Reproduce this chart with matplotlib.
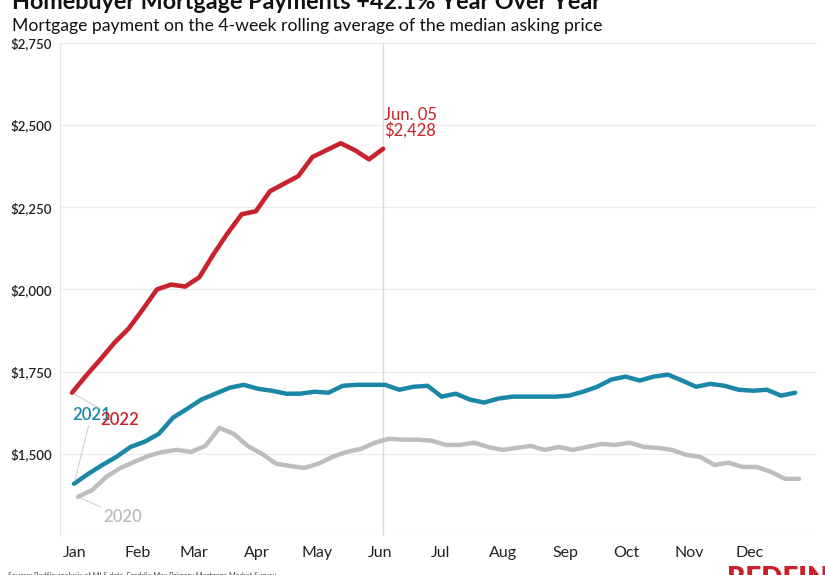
import matplotlib
matplotlib.use("Agg")
import matplotlib.pyplot as plt
import numpy as np

# Weekly mortgage payment on 4-week rolling avg of median asking price ($)
pay_2022 = [1686, 1738, 1787, 1838, 1881, 1939, 2000, 2015, 2009, 2037, 2107, 2171,
            2229, 2238, 2299, 2322, 2345, 2403, 2424, 2445, 2424, 2396, 2428]
pay_2021 = [1409, 1439, 1466, 1491, 1521, 1537, 1561, 1610, 1637, 1665, 1683, 1701,
            1710, 1698, 1692, 1683, 1683, 1689, 1686, 1707, 1710, 1710, 1710, 1695,
            1704, 1707, 1674, 1683, 1665, 1656, 1668, 1674, 1674, 1674, 1674, 1677,
            1689, 1704, 1726, 1735, 1723, 1735, 1741, 1723, 1704, 1713, 1707, 1695,
            1692, 1695, 1677, 1686]
pay_2020 = [1369, 1390, 1430, 1457, 1476, 1494, 1506, 1512, 1506, 1524, 1579, 1561,
            1524, 1500, 1470, 1463, 1457, 1470, 1491, 1506, 1515, 1534, 1546, 1543,
            1543, 1540, 1527, 1527, 1534, 1521, 1512, 1518, 1524, 1512, 1521, 1512,
            1521, 1530, 1527, 1534, 1521, 1518, 1512, 1497, 1491, 1466, 1473, 1460,
            1460, 1445, 1424, 1424]

# first week-ending day (day of year, 0 = Jan 1) for each year
start_day = {"2022": 1, "2021": 2, "2020": 4}

months = ["Jan", "Feb", "Mar", "Apr", "May", "Jun", "Jul", "Aug", "Sep", "Oct", "Nov", "Dec"]
month_start = [0, 31, 59, 90, 120, 151, 181, 212, 243, 273, 304, 334]
y_ticks = [1500, 1750, 2000, 2250, 2500, 2750]

RED = "#c8232c"
TEAL = "#1a87a6"
GRAY = "#bdbdbd"
FONT = ["Lato", "DejaVu Sans"]
plt.rcParams["font.family"] = FONT

fig = plt.figure(figsize=(8.25, 5.75), dpi=100)
ax = fig.add_axes([60 / 825, 1 - 536 / 575, 757 / 825, 493 / 575])

days_20 = start_day["2020"] + 7 * np.arange(len(pay_2020))
days_21 = start_day["2021"] + 7 * np.arange(len(pay_2021))
days_22 = start_day["2022"] + 7 * np.arange(len(pay_2022))

# grid + Jun marker line
for v in [1250] + y_ticks:
    ax.axhline(v, color="#ececec", lw=0.8, zorder=0)
ax.axvline(days_22[-1], color="#d9d9d9", lw=0.9, zorder=0)

ax.plot(days_20, pay_2020, color=GRAY, lw=3.2, solid_capstyle="round", zorder=2)
ax.plot(days_21, pay_2021, color=TEAL, lw=3.2, solid_capstyle="round", zorder=3)
ax.plot(days_22, pay_2022, color=RED, lw=3.3, solid_capstyle="round", zorder=4)

# series labels with leader lines
lead = dict(arrowstyle="-", color="#d0d0d0", lw=0.8, shrinkA=0, shrinkB=2)
ax.annotate("2021", xy=(days_21[0], pay_2021[0]), xytext=(10.6, 1619),
            color=TEAL, fontsize=12, fontweight="semibold", ha="center", va="center",
            arrowprops=lead, zorder=5)
ax.annotate("2022", xy=(days_22[0], pay_2022[0]), xytext=(24.5, 1604),
            color=RED, fontsize=12, fontweight="semibold", ha="center", va="center",
            arrowprops=lead, zorder=6)
ax.annotate("2020", xy=(days_20[0], pay_2020[0]), xytext=(26, 1308),
            color=GRAY, fontsize=12, fontweight="semibold", ha="center", va="center",
            arrowprops=lead, zorder=5)

ax.text(days_22[-1] + 0.5, 2458, "Jun. 05\n$" + f"{pay_2022[-1]:,}",
        color=RED, fontsize=12, ha="left", va="bottom", linespacing=0.95)

ax.set_xlim(-4.95, 369.8)
ax.set_ylim(1250, 2750)
ax.set_xticks([d + 2.5 for d in month_start])
ax.set_xticklabels(months, fontsize=11.5, color="#222222")
ax.set_yticks(y_ticks)
ax.set_yticklabels(["$" + f"{v:,}" for v in y_ticks], fontsize=9.5,
                   fontweight="semibold", color="#222222")
ax.tick_params(axis="both", length=0)
ax.tick_params(axis="y", pad=6)
ax.tick_params(axis="x", pad=7)
for s in ["top", "right", "bottom"]:
    ax.spines[s].set_visible(False)
ax.spines["left"].set_color("#e6e6e6")
ax.spines["left"].set_linewidth(0.8)

fig.text(12 / 825, 1 - 9 / 575, "Homebuyer Mortgage Payments +42.1% Year Over Year",
         fontsize=16.8, fontweight="bold", color="#111111", ha="left", va="baseline")
fig.text(12 / 825, 1 - 31 / 575,
         "Mortgage payment on the 4-week rolling average of the median asking price",
         fontsize=12.7, color="#111111", ha="left", va="baseline")
fig.text(8 / 825, 1 - 578 / 575,
         "Source: Redfin analysis of MLS data, Freddie Mac Primary Mortgage Market Survey",
         fontsize=5.3, color="#444444", ha="left", va="baseline")
fig.text(727 / 825, 1 - 566 / 575, "REDFIN", fontsize=20, fontweight="heavy",
         color=RED, ha="left", va="top")

fig.savefig("out.png", dpi=100)
